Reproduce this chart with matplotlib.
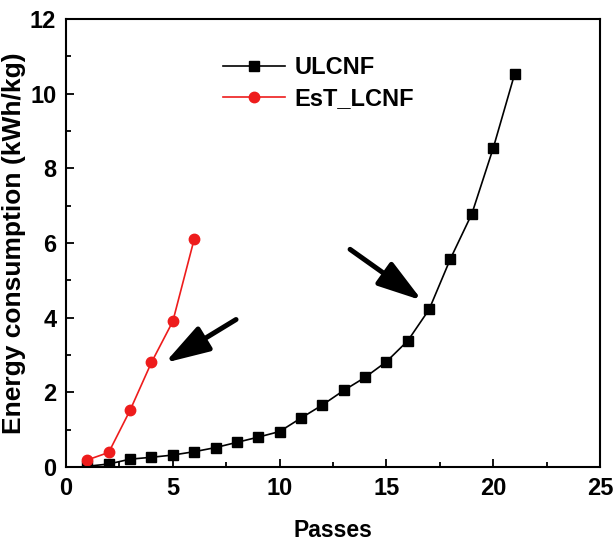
import matplotlib
matplotlib.use("Agg")
import matplotlib.pyplot as plt
from matplotlib.ticker import MultipleLocator

plt.rcParams["font.family"] = ["Liberation Sans", "DejaVu Sans"]
plt.rcParams["font.weight"] = "bold"

# data
ulcnf_passes = [1, 2, 3, 4, 5, 6, 7, 8, 9, 10, 11, 12, 13, 14, 15, 16, 17, 18, 19, 20, 21]
ulcnf_energy = [0.02, 0.08, 0.21, 0.26, 0.32, 0.41, 0.52, 0.66, 0.80, 0.95, 1.31, 1.66,
                2.05, 2.40, 2.82, 3.38, 4.22, 5.58, 6.78, 8.54, 10.52]
est_passes = [1, 2, 3, 4, 5, 6]
est_energy = [0.19, 0.39, 1.52, 2.80, 3.90, 6.10]

fig = plt.figure(figsize=(6.16, 5.46), dpi=100)
ax = fig.add_axes([66 / 616, 1 - 467 / 546, (600 - 66) / 616, (467 - 19) / 546])

ax.plot(ulcnf_passes, ulcnf_energy, color="black", marker="s", markersize=6.5,
        linewidth=1.2, label="ULCNF")
ax.plot(est_passes, est_energy, color="#ee1c1c", marker="o", markersize=7.5,
        linewidth=1.2, label="EsT_LCNF")

ax.set_xlim(0, 25)
ax.set_ylim(0, 12)
ax.xaxis.set_major_locator(MultipleLocator(5))
ax.xaxis.set_minor_locator(MultipleLocator(2.5))
ax.yaxis.set_major_locator(MultipleLocator(2))
ax.yaxis.set_minor_locator(MultipleLocator(1))
ax.tick_params(which="both", direction="in", labelsize=17, width=1.3)
ax.tick_params(which="major", length=6, pad=7)
ax.tick_params(which="minor", length=3.5)
for sp in ax.spines.values():
    sp.set_linewidth(1.5)

ax.set_xlabel("Passes", fontsize=16.5, fontweight="bold", labelpad=14)
ax.set_ylabel("Energy consumption (kWh/kg)", fontsize=19, fontweight="bold", labelpad=3)

ax.legend(loc="upper left", bbox_to_anchor=(0.255, 0.965), frameon=False,
          handlelength=2.6, handletextpad=0.4, labelspacing=0.35,
          prop={"weight": "bold", "size": 17})

# the two pointer arrows
arrow = dict(arrowstyle="-|>,head_length=1.35,head_width=0.42", color="black",
             lw=3.6, mutation_scale=20, shrinkA=0, shrinkB=0)
ax.annotate("", xy=(16.67, 4.46), xytext=(13.3, 5.83), arrowprops=arrow)
ax.annotate("", xy=(4.63, 2.79), xytext=(7.96, 3.95), arrowprops=arrow)

fig.savefig("out.png", dpi=100)
